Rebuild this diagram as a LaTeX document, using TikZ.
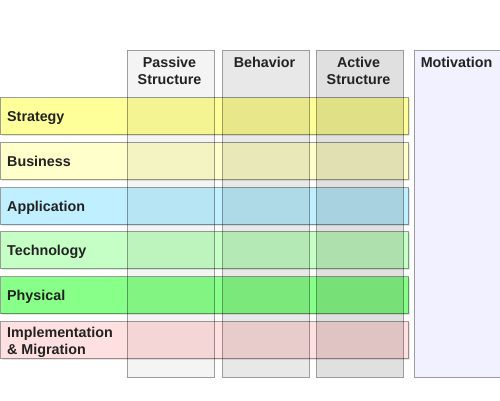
\documentclass[tikz,border=0pt]{standalone}
\usepackage{fontspec}
\setmainfont{Liberation Sans}
\begin{document}
\begin{tikzpicture}[x=1pt,y=-1pt,
  frame/.style={draw=linegrey, line width=1pt, inner sep=0pt, anchor=north west},
  colbox/.style={frame, minimum width=87pt, minimum height=327pt},
  rowbox/.style={frame, blend mode=multiply, minimum width=408pt, minimum height=37pt},
  shadowstrip/.style={fill=black!10, blend mode=multiply},
  lbl/.style={font=\bfseries\fontsize{14.3}{17}\selectfont, text=textdark, inner sep=0pt},
  head/.style={lbl, align=center, anchor=north},
]
\definecolor{linegrey}{HTML}{9C9C9C}
\definecolor{textdark}{HTML}{222222}
\definecolor{cPassive}{HTML}{F4F4F4}
\definecolor{cBehavior}{HTML}{E8E8E8}
\definecolor{cActive}{HTML}{E0E0E0}
\definecolor{cMotivation}{HTML}{F1F1FF}
\definecolor{cStrategy}{HTML}{FFFF99}
\definecolor{cBusiness}{HTML}{FFFFCC}
\definecolor{cApplication}{HTML}{C0F0FF}
\definecolor{cTechnology}{HTML}{C6FFC6}
\definecolor{cPhysical}{HTML}{88FF88}
\definecolor{cImplementation}{HTML}{FFE0E0}

\useasboundingbox (0,0) rectangle (500,400);

% aspect columns
\node[colbox, fill=cPassive]    (passive)    at (126.5,49.5) {};
\node[colbox, fill=cBehavior]   (behavior)   at (221.5,49.5) {};
\node[colbox, fill=cActive]     (active)     at (315.5,49.5) {};
\node[colbox, fill=cMotivation, minimum width=86pt] (motivation) at (413.5,49.5) {};

% layer rows: thin shadow on the right and bottom, then the multiplied band
\foreach \y/\c/\n in {97/cStrategy/strategy, 142/cBusiness/business,
                      187/cApplication/application, 231/cTechnology/technology,
                      276/cPhysical/physical, 321/cImplementation/implementation}{
  \fill[shadowstrip] (2,\y+37.5) rectangle (410,\y+39);
  \fill[shadowstrip] (408.5,\y+2) rectangle (410,\y+37.5);
  \node[rowbox, fill=\c] (\n) at (0,\y) {};
}

% column headings
\node[head] (passiveT)    at (169.5,56.5) {Passive\\Structure};
\node[head] (behaviorT)   at (264.5,56.5) {Behavior};
\node[head] (activeT)     at (358.5,56.5) {Active\\Structure};
\node[head] (motivationT) at (456.5,56.5) {Motivation};

% layer names
\node[lbl, anchor=base west] (strategyT)    at (7,121.5) {Strategy};
\node[lbl, anchor=base west] (businessT)    at (7,166) {Business};
\node[lbl, anchor=base west] (applicationT) at (7,211) {Application};
\node[lbl, anchor=base west] (technologyT)  at (7,255.5) {Technology};
\node[lbl, anchor=base west] (physicalT)    at (7,300.5) {Physical};
\node[lbl, anchor=north west, align=left] (implementationT) at (7,326.5) {Implementation\\\& Migration};
\end{tikzpicture}
\end{document}
